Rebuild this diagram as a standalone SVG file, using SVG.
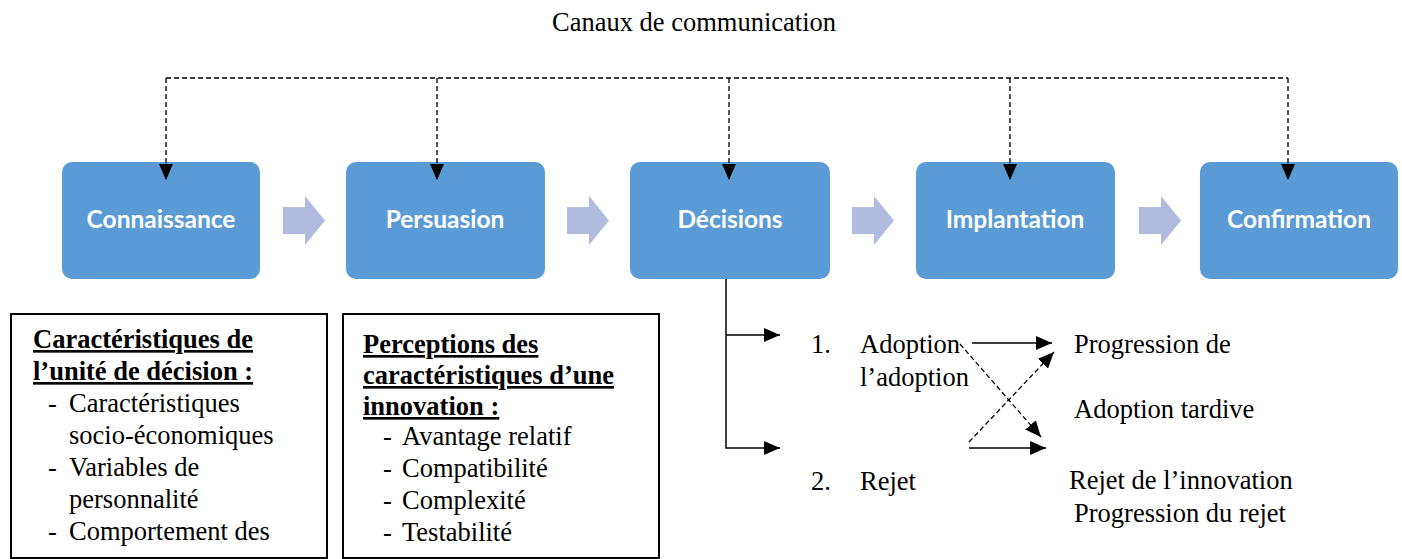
<svg xmlns="http://www.w3.org/2000/svg" width="1402" height="559" viewBox="0 0 1402 559">
<style>
.t{font-family:"Liberation Serif","Times New Roman",serif;font-size:26.5px;fill:#000}
.b{font-weight:bold;text-decoration:underline}
.box{fill:#5B9BD5;stroke:none}
.bt{font-family:Lato,"Open Sans",sans-serif;font-weight:bold;font-size:24.5px;fill:#fff;text-anchor:middle}
.ba{fill:#B0BBDD}
.dash{fill:none;stroke:#000;stroke-width:1.3;stroke-dasharray:5 3}
.sol{fill:none;stroke:#000;stroke-width:1.5}
.frame{fill:#fff;stroke:#000;stroke-width:2}
</style>
<defs>
<marker id="ah2" viewBox="0 0 16 14" refX="16" refY="7" markerWidth="16" markerHeight="14" orient="auto" markerUnits="userSpaceOnUse">
<path d="M0,0 L16,7 L0,14 Z" fill="#000"/>
</marker>
</defs>
<text class="t" x="694" y="31" text-anchor="middle">Canaux de communication</text>

<g id="node-connaissance"><rect class="box" x="62" y="162" width="198" height="117" rx="10"/><text class="bt" x="161" y="228">Connaissance</text></g>
<g id="node-persuasion"><rect class="box" x="346" y="162" width="199" height="117" rx="10"/><text class="bt" x="445" y="228">Persuasion</text></g>
<g id="node-decisions"><rect class="box" x="630" y="162" width="200" height="117" rx="10"/><text class="bt" x="730" y="228">Décisions</text></g>
<g id="node-implantation"><rect class="box" x="916" y="162" width="199" height="117" rx="10"/><text class="bt" x="1015" y="228">Implantation</text></g>
<g id="node-confirmation"><rect class="box" x="1200" y="162" width="198" height="117" rx="10"/><text class="bt" x="1299" y="228">Confirmation</text></g>

<g id="block-arrows">
<path class="ba" d="M283,207 H305 V196 L325,220.5 L305,245 V234 H283 Z"/>
<path class="ba" d="M567,207 H589 V196 L609,220.5 L589,245 V234 H567 Z"/>
<path class="ba" d="M852,207 H874 V196 L894,220.5 L874,245 V234 H852 Z"/>
<path class="ba" d="M1139,207 H1161 V196 L1181,220.5 L1161,245 V234 H1139 Z"/>
</g>

<g id="connectors">
<path class="dash" d="M166,78 H1288"/>
<path class="dash" d="M166,78 V180" marker-end="url(#ah2)"/>
<path class="dash" d="M437,78 V180" marker-end="url(#ah2)"/>
<path class="dash" d="M729,78 V180" marker-end="url(#ah2)"/>
<path class="dash" d="M1010,78 V180" marker-end="url(#ah2)"/>
<path class="dash" d="M1288,78 V180" marker-end="url(#ah2)"/>
</g>

<g id="node-unite">
<rect class="frame" x="11" y="314" width="316" height="244"/>
<text class="t b" x="33" y="348">Caractéristiques de</text>
<text class="t b" x="33" y="380">l’unité de décision :</text>
<text class="t" x="48" y="412">-</text><text class="t" x="69" y="412">Caractéristiques</text>
<text class="t" x="69" y="444">socio-économiques</text>
<text class="t" x="48" y="476">-</text><text class="t" x="69" y="476">Variables de</text>
<text class="t" x="69" y="508">personnalité</text>
<text class="t" x="48" y="540">-</text><text class="t" x="69" y="540">Comportement des</text>
</g>

<g id="node-perceptions">
<rect class="frame" x="343" y="314" width="316" height="244"/>
<text class="t b" x="363" y="353">Perceptions des</text>
<text class="t b" x="363" y="384">caractéristiques d’une</text>
<text class="t b" x="363" y="415">innovation :</text>
<text class="t" x="383" y="445">-</text><text class="t" x="402" y="445">Avantage relatif</text>
<text class="t" x="383" y="477">-</text><text class="t" x="402" y="477">Compatibilité</text>
<text class="t" x="383" y="509">-</text><text class="t" x="402" y="509">Complexité</text>
<text class="t" x="383" y="541">-</text><text class="t" x="402" y="541">Testabilité</text>
</g>

<g id="decision-connectors">
<path class="sol" d="M726,279 V448 H780" marker-end="url(#ah2)"/>
<path class="sol" d="M726,335 H780" marker-end="url(#ah2)"/>
<path class="sol" d="M972,343 H1052" marker-end="url(#ah2)"/>
<path class="sol" d="M969,448 H1046" marker-end="url(#ah2)"/>
<path class="dash" d="M960,344 L1041,437" marker-end="url(#ah2)"/>
<path class="dash" d="M969,442 L1054,352" marker-end="url(#ah2)"/>
</g>

<g id="node-outcomes">
<text class="t" x="811" y="353">1.</text><text class="t" x="860" y="353">Adoption</text>
<text class="t" x="860" y="386">l’adoption</text>
<text class="t" x="811" y="490">2.</text><text class="t" x="860" y="490">Rejet</text>
<text class="t" x="1074" y="353">Progression de</text>
<text class="t" x="1074" y="418">Adoption tardive</text>
<text class="t" x="1069" y="489">Rejet de l’innovation</text>
<text class="t" x="1074" y="522">Progression du rejet</text>
</g>
</svg>
